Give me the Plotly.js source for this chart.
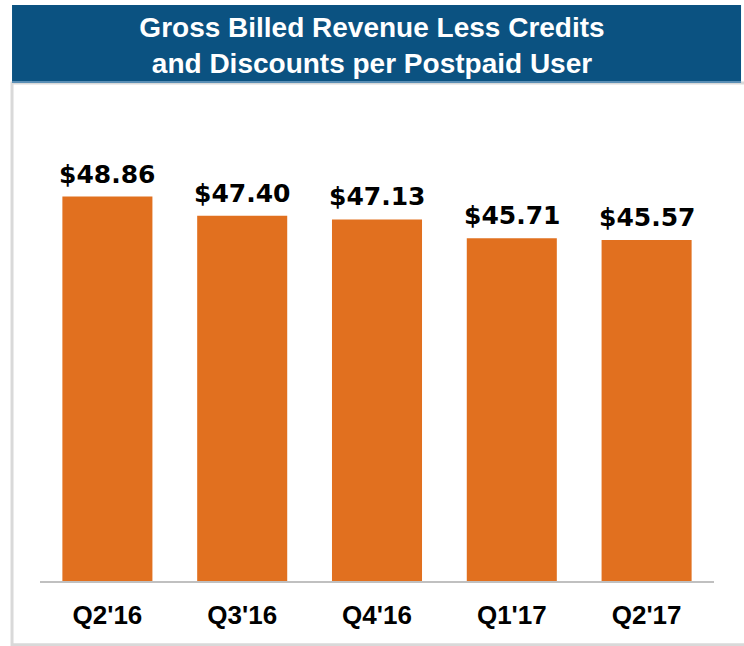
<!DOCTYPE html>
<html>
<head>
<meta charset="utf-8">
<script src="https://cdn.plot.ly/plotly-3.0.1.min.js"></script>
<style>
html,body{margin:0;padding:0;background:#fff;}
#chart{width:744px;height:646px;}
</style>
</head>
<body>
<div id="chart"></div>
<script>
var quarters = ["Q2'16", "Q3'16", "Q4'16", "Q1'17", "Q2'17"];
var revenuePerUser = [48.86, 47.40, 47.13, 45.71, 45.57];
var valueLabels = ["$48.86", "$47.40", "$47.13", "$45.71", "$45.57"];

var trace = {
  type: 'bar',
  x: quarters,
  y: revenuePerUser,
  marker: {color: '#e1701f'},
  hoverinfo: 'none'
};

var annotations = quarters.map(function (q, i) {
  return {
    x: q, y: revenuePerUser[i], xref: 'x', yref: 'y',
    text: valueLabels[i], showarrow: false,
    xanchor: 'center', yanchor: 'bottom', yshift: 6,
    font: {family: 'DejaVu Sans', size: 25, color: '#000', weight: 'bold'}
  };
});

var layout = {
  width: 744,
  height: 646,
  margin: {l: 40, r: 30, t: 100, b: 65},
  paper_bgcolor: '#ffffff',
  plot_bgcolor: '#ffffff',
  bargap: 0.332,
  showlegend: false,
  title: {
    text: 'Gross Billed Revenue Less Credits<br>and Discounts per Postpaid User',
    font: {family: 'Liberation Sans', size: 28, color: '#ffffff', weight: 'bold'},
    x: 0.5, xref: 'container', xanchor: 'center',
    y: 1 - 37/646, yref: 'container', yanchor: 'middle'
  },
  xaxis: {
    type: 'category',
    showline: true, linecolor: '#c0c0c0', linewidth: 2,
    showgrid: false, zeroline: false, ticks: '',
    ticklabelstandoff: 10,
    tickfont: {family: 'Liberation Sans', size: 26, color: '#000', weight: 'bold'}
  },
  yaxis: {
    visible: false,
    range: [19.78, 56.16],
    showgrid: false, zeroline: false
  },
  annotations: annotations,
  shapes: [
    {type: 'rect', xref: 'paper', yref: 'paper', x0: -0.0415, x1: 1.0475, y0: -0.1325, y1: 1.0353,
     line: {color: '#d9d9d9', width: 3}, fillcolor: 'rgba(0,0,0,0)', layer: 'below'},
    {type: 'rect', xref: 'paper', yref: 'paper', x0: -0.0415, x1: 1.0401, y0: 1.0353, y1: 1.1975,
     line: {width: 0}, fillcolor: '#0b5281', layer: 'below'},
    {type: 'line', xref: 'paper', yref: 'paper', x0: -0.0415, x1: 1.0401, y0: 1.0374, y1: 1.0374,
     line: {color: '#5b8fb5', width: 2}, layer: 'below'}
  ]
};

Plotly.newPlot('chart', [trace], layout, {displayModeBar: false, staticPlot: true});
</script>
</body>
</html>
